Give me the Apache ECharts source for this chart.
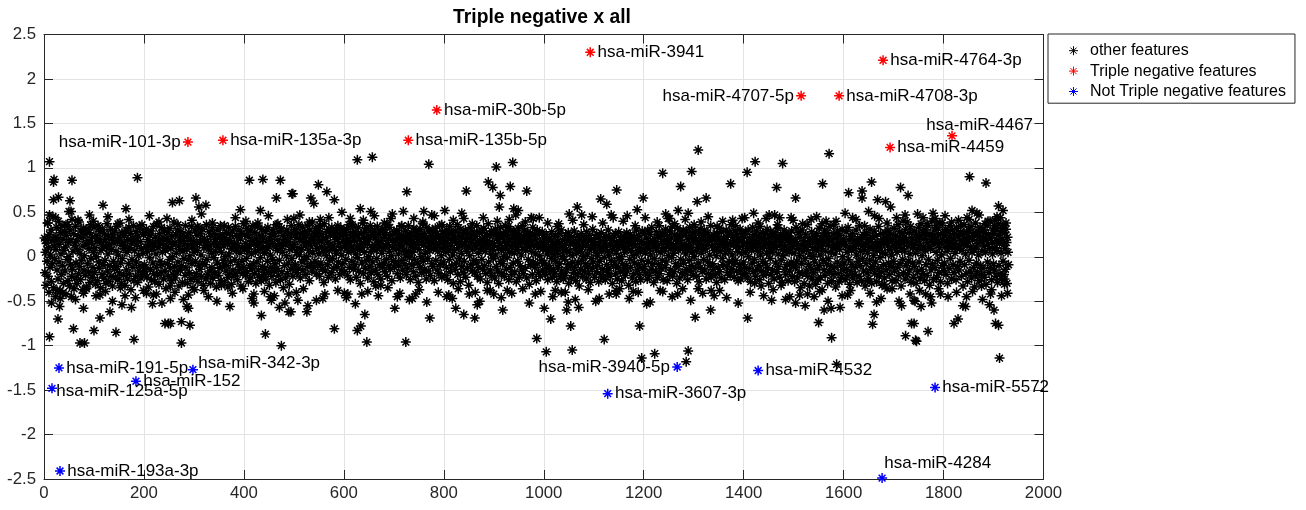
<!DOCTYPE html>
<html><head><meta charset="utf-8">
<script src="https://cdn.jsdelivr.net/npm/echarts@6/dist/echarts.min.js"></script>
<style>html,body{margin:0;padding:0;background:#fff}#c{width:1306px;height:510px}</style>
</head><body><div id="c"></div>
<script>
// ---- data ----
const chartTitle = 'Triple negative x all';
const seriesNames = ['other features', 'Triple negative features', 'Not Triple negative features'];
const xTickMin = 0, xTickMax = 2000, xTickStep = 200;
const yTickMin = -2.5, yTickMax = 2.5, yTickStep = 0.5;

// value of every feature in the dense band, feature index = position + 1
const bandY = [
.21,-.18,.05,-.32,.15,-.05,.38,-.22,.1,-.4,.25,-.12,.02,.3,-.28,.18,-.08,.45,-.35,.12,
-.02,.22,-.45,.08,.33,-.15,.19,-.25,.4,-.06,.14,-.38,.27,.03,-.2,.35,-.1,.2,-.3,.07,
.28,-.16,.11,-.42,.24,-.03,.36,-.27,.16,.0,-.33,.3,-.09,.19,-.22,.42,-.14,.06,.26,-.36,
.13,-.24,.34,-.07,.17,-.3,.08,.23,-.19,.39,-.11,.04,-.26,.29,-.04,.21,-.37,.12,.32,-.15,
.01,.25,-.21,.14,-.34,.31,-.08,.18,-.17,.09,.27,-.29,.36,-.02,.15,-.23,.22,-.12,.05,.33,
-.18,.1,-.31,.24,.0,.17,-.27,.35,-.06,.2,-.13,.28,-.35,.07,.16,-.2,.3,-.09,.12,-.24,
.26,-.04,.19,-.3,.11,.37,-.16,.03,.23,-.28,.14,-.1,.31,-.22,.08,.2,-.33,.25,-.05,.15,
-.14,.29,-.23,.06,.34,-.11,.18,-.26,.02,.22,-.18,.38,-.07,.13,-.3,.27,-.02,.16,-.21,.09,
.24,-.32,.12,.3,-.15,.05,-.25,.19,-.08,.33,-.19,.1,.26,-.37,.15,-.03,.21,-.12,.35,-.27,
.07,.18,-.22,.28,-.06,.13,-.29,.23,.01,-.16,.32,-.1,.17,-.24,.09,.36,-.2,.04,.25,-.13,
-.09,.27,-.17,.11,.31,-.23,.06,.19,-.34,.14,-.01,.24,-.14,.29,-.26,.08,.16,-.07,.34,-.19,
.12,-.28,.22,.03,-.12,.37,-.21,.1,.18,-.31,.26,-.05,.15,-.18,.33,-.09,.05,.21,-.25,.13,
.3,-.16,.07,-.36,.2,.11,-.08,.27,-.22,.17,-.03,.32,-.13,.09,-.27,.23,.0,.14,-.2,.39,
-.11,.16,-.24,.25,.04,-.17,.3,-.06,.12,-.33,.21,.08,-.15,.28,-.1,.18,-.29,.06,.24,-.02,
.15,-.21,.35,-.12,.09,.22,-.3,.13,-.04,.27,-.18,.01,.2,-.26,.34,-.08,.11,-.35,.17,.05,
-.23,.29,-.05,.14,-.19,.24,.07,-.28,.32,-.1,.16,-.14,.26,.02,-.22,.19,-.07,.31,-.32,.1,
.2,-.09,.13,-.25,.36,-.03,.17,-.2,.08,.28,-.16,.12,-.3,.23,.04,-.12,.33,-.24,.15,-.01,
.26,-.18,.06,.19,-.34,.14,-.07,.3,-.21,.1,.22,-.13,.35,-.27,.05,.17,-.11,.25,-.04,.12,
-.29,.21,.0,-.16,.27,-.1,.15,-.23,.33,.03,-.2,.18,-.06,.24,-.31,.09,.29,-.15,.11,-.22,
.16,-.03,.34,-.19,.07,.23,-.26,.13,-.09,.3,-.14,.04,.2,-.33,.26,-.05,.1,-.18,.37,-.12,
.09,.25,-.21,.15,-.02,.32,-.17,.06,-.28,.22,.12,-.1,.29,-.24,.03,.18,-.13,.35,-.08,.14,
-.19,.27,.05,-.3,.2,-.06,.13,.38,-.15,.08,-.23,.24,-.01,.16,-.27,.31,-.11,.1,.21,-.2,
.04,-.14,.28,-.25,.17,.09,-.05,.33,-.18,.12,-.32,.2,.02,-.12,.26,-.22,.15,-.03,.3,-.16,
.23,-.08,.11,-.29,.36,-.13,.07,.19,-.21,.28,-.04,.14,-.26,.09,.32,-.17,.05,.24,-.35,.16,
-.1,.2,-.24,.13,.01,.3,-.19,.26,-.07,.17,-.31,.08,.22,-.14,.35,-.02,.11,-.22,.27,-.12,
.14,.31,-.09,.22,.05,-.18,.27,.1,-.13,.36,.02,.19,-.24,.25,.08,-.06,.33,-.15,.16,.21,
-.03,.28,.12,-.2,.24,.0,.35,-.11,.17,.07,-.27,.3,.13,-.08,.22,-.16,.39,.04,.19,-.12,
.26,-.05,.15,.32,-.19,.09,.23,-.1,.29,.03,-.22,.18,.34,-.07,.11,.25,-.14,.2,.06,-.29,
.37,.1,-.16,.21,.01,.28,-.09,.16,-.23,.31,.07,-.04,.24,.14,-.18,.33,-.02,.12,.27,-.13,
.08,.22,-.25,.3,.04,-.11,.19,.35,-.06,.15,.26,-.2,.1,.32,-.15,.02,.23,-.08,.17,.29,
-.17,.13,.24,-.03,.31,.09,-.21,.2,.05,.36,-.12,.16,-.26,.27,.11,-.05,.22,.34,-.14,.07,
.18,-.09,.28,.03,-.23,.25,.12,-.01,.33,-.16,.2,.08,-.3,.15,.26,-.07,.1,.38,-.19,.21,
.05,.29,-.13,.17,-.04,.32,.14,-.24,.23,.0,.19,-.11,.35,.06,-.18,.27,.1,-.06,.24,-.28,
.3,.13,-.15,.21,.07,-.02,.34,-.2,.16,.25,-.09,.11,.29,-.25,.18,.04,-.12,.31,.09,-.07,
.22,-.17,.27,.12,-.03,.36,-.22,.14,.2,-.1,.06,.33,-.14,.24,.01,-.27,.19,.1,-.05,.28,
-.12,.16,.26,-.06,.09,.3,-.19,.21,.03,-.1,.25,.13,-.24,.18,.34,-.04,.11,-.15,.23,.07,
.19,-.08,.29,.02,-.2,.15,.24,-.13,.35,.06,-.01,.2,-.26,.12,.27,-.09,.17,.05,-.17,.32,
-.03,.23,.1,-.22,.28,.14,-.07,.19,-.29,.25,.08,-.12,.31,.0,.16,-.18,.22,.37,-.05,.13,
.26,-.14,.04,.2,-.25,.33,.11,-.02,.18,-.16,.29,.07,-.21,.24,.15,-.08,.3,-.11,.09,.21,
-.27,.17,.32,-.04,.12,.26,-.15,.06,.23,-.19,.14,.35,-.09,.2,.01,-.23,.28,.1,-.06,.18,
.11,-.21,.25,.05,-.12,.3,.16,-.26,.22,.08,-.03,.34,-.17,.13,.27,-.1,.19,.02,-.3,.24,
.07,.2,-.14,.29,-.07,.15,.36,-.2,.1,.24,-.02,.17,-.28,.31,.04,-.11,.22,.13,-.18,.27,
-.05,.14,.3,-.23,.19,.06,-.13,.26,.11,-.32,.21,.01,.33,-.09,.16,.25,-.16,.08,.2,-.04,
.28,-.18,.12,.23,-.07,.35,-.22,.15,.04,-.12,.27,.18,-.25,.09,.3,-.03,.2,-.14,.13,.32,
-.1,.22,.06,-.19,.26,.14,-.29,.18,.37,-.06,.11,.24,-.15,.03,.29,-.21,.16,.08,-.02,.25,
.13,-.24,.31,.02,-.11,.2,.27,-.16,.1,-.3,.23,.15,-.05,.33,-.19,.07,.21,-.08,.26,.0,
-.22,.17,.09,.28,-.14,.24,-.01,.13,.34,-.26,.19,.05,-.12,.3,.11,-.2,.22,.16,-.07,.29,
.04,-.17,.26,.12,-.28,.2,.08,-.05,.32,.15,-.23,.25,-.1,.18,.02,-.15,.35,.1,-.19,.23,
.16,.3,-.13,.07,.21,-.24,.14,.27,-.03,.19,-.31,.11,.24,-.09,.17,.06,-.2,.33,-.06,.13,
.25,-.12,.03,.2,-.27,.15,.3,-.08,.1,-.18,.26,.01,-.22,.17,.12,-.04,.28,-.15,.09,.21,
-.07,.14,-.2,.09,.25,-.13,.03,-.26,.18,.06,-.1,.21,-.17,.12,-.02,.28,-.23,.08,.16,-.14,
.02,-.19,.23,-.05,.11,-.28,.17,.04,-.12,.26,-.08,.15,-.22,.1,.3,-.16,.0,.19,-.25,.07,
.13,-.03,-.21,.24,.08,-.15,.18,-.09,.27,-.3,.05,.2,-.11,.14,-.24,.22,.01,-.06,.16,-.18,
.29,-.12,.09,-.27,.15,.04,-.2,.23,-.07,.12,-.33,.19,.06,-.14,.26,-.04,.1,-.22,.17,.0,
-.16,.21,-.08,.13,-.25,.28,.03,-.11,.18,-.19,.08,.24,-.29,.11,-.02,.16,-.13,.31,-.06,.1,
.19,-.23,.05,.14,-.17,.25,-.1,.01,.22,-.28,.12,-.05,.17,-.2,.27,.07,-.14,.09,-.24,.2,
-.01,.15,-.26,.11,.23,-.09,.06,-.18,.3,-.13,.02,.21,-.22,.13,-.04,.18,-.3,.08,.24,-.11,
.12,-.06,.26,-.19,.04,.17,-.25,.1,-.12,.28,-.02,.14,-.17,.22,.0,-.27,.19,-.08,.11,-.15,
.23,.05,-.21,.16,-.1,.27,-.16,.09,.2,-.32,.13,-.03,.25,-.12,.07,.18,-.24,.15,.01,-.19,
.22,-.07,.12,-.28,.3,.03,-.15,.19,-.09,.24,-.2,.1,.06,-.26,.17,-.04,.29,-.13,.08,.14,
-.11,.26,.04,-.18,.21,.13,-.25,.3,-.05,.16,.09,-.21,.25,.02,-.14,.33,-.08,.18,.11,-.29,
.2,-.02,.15,-.16,.28,.07,-.23,.22,.12,-.09,.35,-.19,.05,.24,-.13,.17,-.04,.27,-.26,.1,
.06,.19,-.12,.31,-.06,.14,-.27,.23,.01,.16,-.2,.29,.09,-.15,.21,-.01,.34,-.22,.13,.04,
-.17,.25,.1,-.08,.2,-.3,.15,.32,-.11,.07,.23,-.24,.18,-.03,.26,.12,-.18,.09,.3,-.07,
.14,-.2,.24,.03,-.14,.29,.08,-.26,.19,.13,-.04,.33,-.16,.1,.22,-.1,.05,.27,-.21,.16,
.0,.21,-.13,.28,.06,-.22,.17,.11,-.07,.26,-.28,.14,.31,-.12,.04,.2,-.17,.24,.08,-.03,
.3,-.15,.09,.18,-.25,.13,.27,-.06,.16,-.19,.22,.02,-.1,.35,-.23,.12,.19,-.08,.25,-.14,
.07,.23,-.2,.15,.01,-.29,.26,.1,-.12,.2,.32,-.17,.06,.14,-.24,.28,-.02,.17,-.09,.21,
.11,-.26,.19,.04,.3,-.11,.15,-.18,.24,.08,-.05,.27,-.21,.13,.36,-.14,.02,.22,-.08,.16,
-.23,.18,.29,-.04,.12,-.16,.25,.06,-.27,.2,.1,-.09,.31,-.15,.17,.03,-.2,.26,.13,-.06,
.22,-.12,.05,.28,-.19,.16,.09,-.24,.3,.0,-.13,.21,.14,-.28,.19,.07,-.07,.33,-.17,.11,
.25,-.03,.18,-.22,.12,.29,-.14,.06,.23,-.1,.15,-.26,.34,.02,-.16,.2,.1,-.05,.27,-.21,
.13,.19,-.08,.26,-.18,.04,.31,-.12,.16,-.3,.22,.09,-.02,.28,-.2,.14,.05,-.15,.24,.11,
-.25,.17,.27,-.07,.1,.21,-.17,.32,.03,-.11,.19,-.23,.13,.25,-.04,.16,-.29,.08,.22,.01,
.3,-.14,.12,-.2,.26,.07,-.09,.18,-.27,.23,.05,-.16,.2,.14,-.06,.29,-.22,.11,.17,-.1,
.04,-.28,.2,-.12,.33,-.05,.15,-.24,.09,.27,-.18,.01,.22,-.35,.13,-.08,.3,-.19,.06,.18,
-.3,.11,-.02,.25,-.16,.08,.36,-.22,.14,-.09,.21,-.33,.03,.17,-.13,.28,-.25,.1,.0,-.18,
.23,-.06,.16,-.31,.07,.26,-.14,.19,-.26,.12,.32,-.1,.02,-.23,.2,.09,-.37,.15,-.04,.24,
-.15,.3,-.21,.06,.18,-.08,.27,-.3,.13,-.02,.22,-.17,.34,-.11,.05,-.27,.19,.1,-.2,.14,
.26,-.12,.03,-.34,.21,.11,-.06,.29,-.19,.16,-.28,.08,.24,-.1,.15,-.23,.31,.0,-.15,.2,
-.07,.17,-.26,.12,.28,-.14,.05,-.21,.33,-.03,.19,-.31,.1,.23,-.17,.07,-.09,.26,-.24,.13,
.18,-.2,.09,-.12,.3,.02,-.29,.21,-.05,.14,-.22,.35,-.1,.06,.19,-.27,.12,-.02,.25,-.16,
.08,.24,-.33,.15,-.08,.27,-.18,.04,.2,-.25,.11,-.04,.31,-.14,.17,-.3,.09,.22,-.11,.01,
.29,-.19,.13,-.06,.23,-.28,.07,.16,-.13,.34,-.22,.1,-.01,.26,-.17,.14,-.32,.05,.2,-.09,
.15,-.24,.27,.03,-.15,.21,-.36,.12,.3,-.07,.18,-.2,.08,.25,-.11,.02,-.27,.19,.13,-.05,
.32,-.16,.1,.24,-.27,.17,.05,-.12,.36,-.21,.14,.28,-.08,.2,-.33,.09,.26,-.03,.15,-.18,
.22,.06,-.25,.31,-.1,.18,.39,-.2,.12,-.05,.27,-.15,.03,.34,-.29,.16,.21,-.07,.1,-.23,
.29,-.11,.14,.04,-.3,.25,.19,-.17,.08,.33,-.06,.22,-.24,.13,.37,-.14,.01,.27,-.19,.11,
.2,-.27,.3,.07,-.09,.24,-.21,.16,.35,-.03,.12,-.32,.26,.09,-.15,.19,.4,-.08,.23,-.26,
.14,.3,-.12,.21,.05,-.23,.33,-.04,.17,.25,-.18,.1,.38,-.28,.15,.02,-.1,.27,.19,-.16,
.24,-.07,.11,.31,-.2,.18,.06,-.3,.28,.13,-.13,.22,.35,-.02,.16,-.25,.1,.3,-.09,.2,
-.18,.26,.04,.15,-.26,.32,.09,-.11,.23,.41,-.15,.12,-.05,.28,.18,-.22,.07,.25,-.33,.14,
.36,-.09,.2,.03,-.19,.27,.13,-.28,.17,.3,-.04,.22,-.16,.1,.34,-.24,.05,.19,.26,-.12,
.08,.23,-.21,.38,.11,-.07,.29,-.17,.15,.02,-.27,.24,.33,-.1,.18,-.2,.06,.3,-.13,.21,
.12,-.23,.27,.05,-.31,.19,.35,-.06,.14,.25,-.18,.09,.4,-.12,.21,-.26,.16,.03,.3,-.08,
.26,-.15,.1,.32,-.22,.18,.07,-.29,.24,.37,-.1,.15,-.19,.28,.04,-.25,.2,.33,-.05,.13,
-.2,.27,.09,-.14,.31,.16,-.3,.22,.05,-.09
];

// features in the fringe of the band: [feature index, value]
const fringePoints = [
[8,0.38],[15,-0.52],[23,0.44],[37,-0.41],[44,0.36],[63,-0.48],[68,0.41],[85,-0.36],[91,0.47],[104,-0.44],[110,0.33],[123,-0.39],[128,0.45],
[137,-0.5],[148,0.37],[153,-0.35],[170,0.42],[183,-0.46],[192,0.34],[199,-0.38],[211,0.46],[219,-0.43],[230,0.39],[236,-0.52],[246,0.43],
[262,-0.4],[268,0.36],[279,-0.48],[296,0.41],[301,-0.37],[315,0.48],[329,-0.45],[337,0.38],[346,-0.5],[361,0.35],[377,-0.41],[383,0.44],
[398,-0.36],[404,0.4],[416,-0.47],[427,0.34],[441,-0.39],[449,0.46],[461,-0.44],[468,0.37],[482,-0.52],[487,0.42],[505,-0.4],[512,0.47],
[519,-0.36],[531,0.39],[545,-0.49],[552,0.35],[562,-0.42],[570,0.44],[588,-0.38],[596,0.5],[605,-0.46],[617,0.36],[623,-0.53],[639,0.41],
[648,-0.39],[661,0.46],[669,-0.44],[681,0.38],[688,-0.35],[697,0.48],[712,-0.41],[716,0.35],[731,-0.48],[740,0.43],[751,-0.37],[758,0.39],
[766,-0.51],[781,0.46],[789,-0.4],[796,0.36],[806,-0.45],[819,0.41],[829,-0.36],[836,0.49],[851,-0.42],[857,0.37],[872,-0.5],[879,0.44],
[893,-0.38],[907,0.4],[915,-0.46],[923,0.35],[936,-0.41],[944,0.47],[958,-0.36],[963,0.39],[971,-0.52],[979,0.43],[994,-0.39],[1008,0.38],
[1018,-0.45],[1027,0.34],[1035,-0.4],[1058,0.41],[1063,-0.48],[1080,0.36],[1089,-0.37],[1097,0.45],[1104,-0.5],[1118,0.38],[1131,-0.42],
[1135,0.47],[1152,-0.36],[1159,0.4],[1171,-0.47],[1183,0.35],[1189,-0.4],[1203,0.44],[1213,-0.51],[1227,0.39],[1233,-0.38],[1244,0.48],
[1257,-0.45],[1262,0.37],[1278,-0.36],[1283,0.42],[1294,-0.49],[1301,0.36],[1318,-0.41],[1329,0.45],[1352,-0.38],[1358,0.4],[1366,-0.46],
[1384,0.35],[1389,-0.52],[1397,0.43],[1413,-0.4],[1429,0.38],[1440,-0.44],[1451,0.47],[1459,-0.37],[1468,0.36],[1484,-0.48],[1499,0.41],
[1512,-0.43],[1518,0.37],[1523,-0.55],[1546,0.45],[1552,-0.39],[1565,0.4],[1569,-0.5],[1580,0.36],[1597,-0.44],[1603,0.49],[1614,-0.38],
[1625,0.42],[1631,-0.53],[1642,0.35],[1653,-0.41],[1662,0.46],[1675,-0.47],[1687,0.38],[1697,-0.36],[1706,0.44],[1711,-0.5],[1719,0.4],
[1733,-0.42],[1748,0.48],[1752,-0.38],[1767,0.37],[1776,-0.52],[1783,0.43],[1790,-0.36],[1803,0.46],[1809,-0.45],[1816,0.39],[1826,-0.4],
[1834,0.35],[1839,-0.55],[1851,0.42],[1858,-0.39],[1871,0.47],[1878,-0.48],[1889,0.4],[1896,-0.37],[1907,0.45],[1916,-0.44],[1925,0.38],[1928,-0.41]
];

// features outside the band: [feature index, value]
const otherOutliers = [
[11,1.07],[19,0.84],[20,0.87],[56,0.86],[187,0.89],[19,0.64],[29,0.67],[52,0.63],[11,0.47],[118,0.58],[164,0.54],[99,0.40],[50,0.51],
[26,-0.38],[33,-0.47],[28,-0.70],[11,-0.90],[59,-0.81],[79,-0.58],[112,-0.69],[132,-0.62],[100,-0.83],[144,-0.85],[72,-0.97],[81,-0.97],
[180,-0.93],[156,-0.54],[175,-0.57],[217,-0.53],[242,-0.75],[249,-0.75],[55,-0.45],[79,-0.41],[112,-0.43],[162,-0.44],[205,-0.41],[225,-0.42],
[4,0.19],[24,0.21],[54,0.51],[31,-0.56],
[411,0.86],[438,0.87],[473,0.86],[496,0.71],[465,0.66],[257,0.61],[271,0.63],[304,0.66],[310,0.56],[324,0.58],[393,0.53],[433,0.52],[307,0.34],
[253,-0.47],[289,-0.43],[286,-0.56],[289,-0.58],[372,-0.56],[253,-0.75],[275,-0.73],[292,-0.77],[275,-0.97],[420,-0.42],[420,-0.52],[453,-0.45],
[455,-0.49],[471,-0.57],[490,-0.62],[435,-0.66],[443,-0.87],[475,-1.0],[490,-0.42],[355,-0.32],[368,-0.34],[320,-0.38],[253,-0.33],
[627,1.09],[657,1.12],[498,0.71],[549,0.81],[534,0.66],[540,0.60],[566,0.73],[581,0.64],[726,0.73],[633,0.54],[654,0.51],[719,0.51],[500,0.43],
[553,0.42],[694,0.43],[613,0.43],[508,-0.49],[528,-0.55],[526,-0.62],[558,-0.47],[581,-0.81],[627,-0.83],[634,-0.78],[642,-0.65],[646,-0.96],
[724,-0.96],[702,-0.58],[707,-0.45],[737,-0.47],[601,-0.41],[608,-0.42],[636,-0.42],[664,-0.33],[674,-0.32],[494,-0.62],
[770,1.04],[905,1.01],[938,1.06],[889,0.84],[898,0.78],[845,0.74],[913,0.69],[933,0.79],[966,0.74],[760,0.51],[776,0.47],[802,0.52],[911,0.56],
[940,0.54],[949,0.52],[840,0.43],[975,0.44],[991,0.44],[931,0.42],[772,-0.69],[824,-0.58],[840,-0.65],[862,-0.69],[867,-0.54],[863,-0.40],
[918,-0.60],[983,-0.42],[986,-0.92],[810,-0.43],[817,-0.47],[887,-0.38],[900,-0.42],[927,-0.38],[744,-0.42],
[1238,0.94],[1146,0.75],[1114,0.65],[1126,0.59],[1199,0.66],[1187,0.53],[1067,0.56],[1051,0.48],[1076,0.47],[1030,0.37],[1139,0.44],[1167,0.46],
[1249,0.43],[1001,-0.58],[1014,-0.70],[1046,-0.60],[1049,-0.51],[1070,-0.57],[1054,-0.78],[1111,-0.47],[1121,-0.93],[1005,-1.07],[1057,-1.05],
[1192,-0.78],[1206,-0.53],[1222,-1.09],[1196,-1.14],[1238,-0.39],[1145,-0.42],[1145,-0.38],[1023,-0.38],[1043,-0.40],[1179,-0.39],
[1309,1.20],[1296,0.96],[1274,0.79],[1423,1.07],[1478,1.05],[1407,0.95],[1374,0.82],[1466,0.78],[1307,0.62],[1325,0.66],[1269,0.52],[1289,0.49],
[1252,0.43],[1420,0.49],[1402,0.44],[1378,0.41],[1347,0.34],[1445,0.43],[1462,0.47],[1472,0.44],[1495,0.44],[1315,0.39],[1268,-0.42],[1309,-0.36],
[1335,-0.38],[1341,-0.44],[1303,-0.68],[1334,-0.60],[1408,-0.69],[1289,-1.06],[1285,-1.18],[1456,-0.49],[1492,-0.45],[1394,-0.25],[1422,-0.30],
[1435,-0.33],[1475,-0.32],
[1571,1.16],[1558,0.82],[1504,0.66],[1610,0.72],[1637,0.74],[1637,0.66],[1656,0.84],[1668,0.64],[1684,0.62],[1694,0.56],[1714,0.78],[1729,0.69],
[1650,0.51],[1671,0.43],[1723,0.47],[1618,0.44],[1535,0.42],[1557,0.37],[1585,0.40],[1504,-0.52],[1541,-0.45],[1528,-0.42],[1561,-0.60],
[1575,-0.58],[1593,-0.57],[1550,-0.74],[1576,-0.91],[1586,-1.21],[1608,-0.43],[1661,-0.65],[1658,-0.76],[1666,-0.51],[1716,-0.55],[1743,-0.50],
[1736,-0.75],[1724,-0.89],[1744,-0.94],[1648,-0.27],[1681,-0.31],
[1852,0.90],[1885,0.83],[1759,0.44],[1779,0.49],[1787,0.35],[1797,0.38],[1847,0.44],[1857,0.52],[1867,0.49],[1910,0.57],[1919,0.52],[1914,0.44],
[1903,0.41],[1919,0.35],[1883,0.37],[1902,0.35],[1741,-0.49],[1755,-0.56],[1764,-0.42],[1774,-0.45],[1794,-0.42],[1741,-0.75],[1769,-0.84],
[1746,-0.95],[1846,-0.45],[1844,-0.56],[1829,-0.70],[1821,-0.75],[1894,-0.42],[1892,-0.54],[1901,-0.60],[1904,-0.75],[1910,-0.77],[1912,-1.14],
[1922,-0.25],[1922,-0.31],[1862,-0.34],[1876,-0.33]
];

const tnNames = ['hsa-miR-101-3p','hsa-miR-135a-3p','hsa-miR-135b-5p','hsa-miR-30b-5p','hsa-miR-3941','hsa-miR-4707-5p','hsa-miR-4708-3p','hsa-miR-4764-3p','hsa-miR-4459','hsa-miR-4467'];
const tnX = [288, 358, 729, 786, 1093, 1515, 1591, 1679, 1693, 1817];
const tnY = [1.29, 1.31, 1.31, 1.65, 2.30, 1.81, 1.81, 2.21, 1.23, 1.36];

const notNames = ['hsa-miR-125a-5p','hsa-miR-191-5p','hsa-miR-193a-3p','hsa-miR-152','hsa-miR-342-3p','hsa-miR-3607-3p','hsa-miR-3940-5p','hsa-miR-4532','hsa-miR-4284','hsa-miR-5572'];
const notX = [16, 30, 32, 184, 298, 1128, 1267, 1429, 1677, 1783];
const notY = [-1.48, -1.25, -2.41, -1.40, -1.27, -1.54, -1.24, -1.28, -2.49, -1.47];

// ---- styling ----
const FONT = '"Liberation Sans", Arial, Helvetica, sans-serif';
const STAR = 'path://M0,5L10,5M5,0L5,10M1.6,1.6L8.4,8.4M8.4,1.6L1.6,8.4';
const COLORS = ['#000000', '#ff0000', '#0000ff'];
const labelStyle = {
  'hsa-miR-101-3p': {position: 'left'},
  'hsa-miR-4707-5p': {position: 'left'},
  'hsa-miR-3940-5p': {position: 'left'},
  'hsa-miR-4467': {position: [-20, -5], align: 'left', verticalAlign: 'middle'},
  'hsa-miR-4284': {position: [8, -9], align: 'left', verticalAlign: 'middle'},
  'hsa-miR-342-3p': {position: [11, -1], align: 'left', verticalAlign: 'middle'},
  'hsa-miR-125a-5p': {position: [10, 9], align: 'left', verticalAlign: 'middle'}
};
function pointsWithLabels(names, xs, ys) {
  return names.map((n, i) => ({
    name: n, value: [xs[i], ys[i]],
    label: Object.assign({show: true, position: 'right', distance: 1.5, formatter: '{b}',
      fontSize: 17, fontFamily: FONT, color: '#000'}, labelStyle[n] || {})
  }));
}

const otherData = bandY.map((y, i) => [i + 1, y]).concat(fringePoints, otherOutliers);
const axisColor = '#262626';
const chart = echarts.init(document.getElementById('c'), null, {renderer: 'canvas'});
const baseX = {type: 'value', min: xTickMin, max: xTickMax, interval: xTickStep};
const baseY = {type: 'value', min: yTickMin, max: yTickMax, interval: yTickStep};
const starStyle = c => ({color: c, borderColor: c, borderWidth: 1.5, opacity: 1});
chart.setOption({
  animation: false,
  backgroundColor: '#fff',
  title: {text: chartTitle, left: 537, top: 3.5, textAlign: 'center',
    textStyle: {fontSize: 19.3, fontWeight: 'bold', color: '#000', fontFamily: FONT}},
  grid: {left: 44, right: 262.5, top: 34.5, bottom: 31, containLabel: false},
  legend: {
    orient: 'vertical', left: 1048, top: 34, padding: [6.5, 9, 1.5, 20.5],
    itemWidth: 23, itemHeight: 9, itemGap: 0,
    backgroundColor: '#fff', borderColor: axisColor, borderWidth: 1,
    textStyle: {fontSize: 16, fontFamily: FONT, color: '#000', lineHeight: 20.4},
    data: seriesNames.map((n, i) => ({name: n, icon: STAR,
      itemStyle: {color: COLORS[i], borderColor: COLORS[i], borderWidth: 1}}))
  },
  xAxis: [
    Object.assign({}, baseX, {position: 'bottom',
      axisLine: {show: true, onZero: false, lineStyle: {color: axisColor, width: 1}},
      axisTick: {show: true, inside: true, length: 9, lineStyle: {color: axisColor}},
      axisLabel: {show: true, margin: 6, fontSize: 16.8, color: axisColor, fontFamily: FONT,
        formatter: v => String(v)},
      splitLine: {show: true, lineStyle: {color: '#e3e3e3', width: 1}}}),
    Object.assign({}, baseX, {position: 'top',
      axisLine: {show: true, onZero: false, lineStyle: {color: axisColor, width: 1}},
      axisTick: {show: true, inside: true, length: 9, lineStyle: {color: axisColor}},
      axisLabel: {show: false}, splitLine: {show: false}})
  ],
  yAxis: [
    Object.assign({}, baseY, {position: 'left',
      axisLine: {show: true, onZero: false, lineStyle: {color: axisColor, width: 1}},
      axisTick: {show: true, inside: true, length: 9, lineStyle: {color: axisColor}},
      axisLabel: {show: true, margin: 8, fontSize: 16.8, color: axisColor, fontFamily: FONT,
        formatter: v => String(v)},
      splitLine: {show: true, lineStyle: {color: '#e3e3e3', width: 1}}}),
    Object.assign({}, baseY, {position: 'right',
      axisLine: {show: true, onZero: false, lineStyle: {color: axisColor, width: 1}},
      axisTick: {show: true, inside: true, length: 9, lineStyle: {color: axisColor}},
      axisLabel: {show: false}, splitLine: {show: false}})
  ],
  series: [
    {name: seriesNames[0], type: 'scatter', xAxisIndex: 0, yAxisIndex: 0, symbol: STAR, symbolSize: 10,
      itemStyle: starStyle(COLORS[0]), emphasis: {disabled: true}, data: otherData, z: 2},
    {name: seriesNames[1], type: 'scatter', xAxisIndex: 0, yAxisIndex: 0, symbol: STAR, symbolSize: 10, clip: false,
      itemStyle: starStyle(COLORS[1]), emphasis: {disabled: true}, data: pointsWithLabels(tnNames, tnX, tnY), z: 3},
    {name: seriesNames[2], type: 'scatter', xAxisIndex: 0, yAxisIndex: 0, symbol: STAR, symbolSize: 10, clip: false,
      itemStyle: starStyle(COLORS[2]), emphasis: {disabled: true}, data: pointsWithLabels(notNames, notX, notY), z: 4}
  ]
});
</script>
</body></html>
